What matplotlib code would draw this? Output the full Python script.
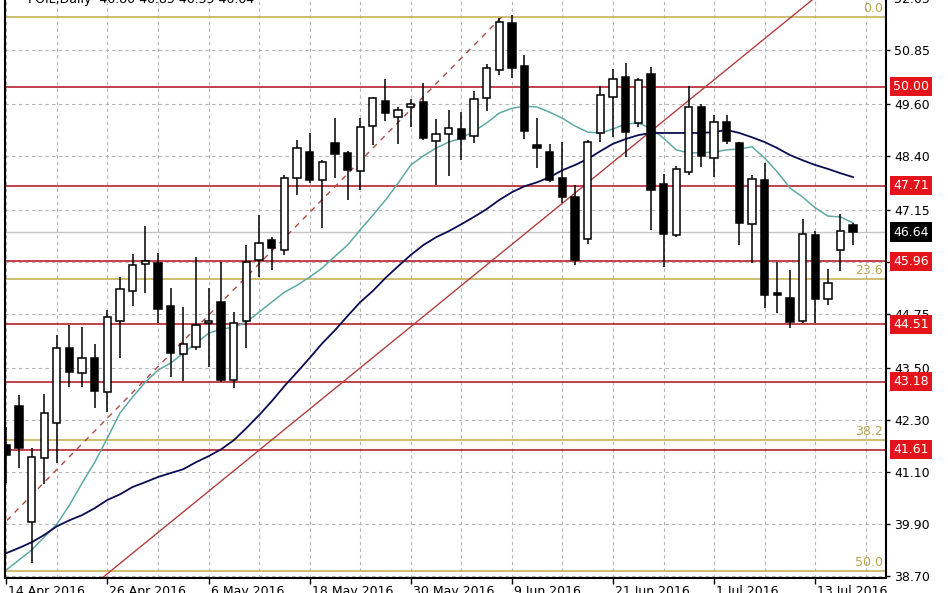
import numpy as np
import pandas as pd
import matplotlib
matplotlib.use("Agg")
import matplotlib.pyplot as plt

# ---------------- data ----------------
dates = pd.bdate_range("2016-04-14", "2016-07-18")   # 68 daily bars

opens = [41.72, 42.62, 39.94, 41.42, 42.23, 43.96, 43.38, 43.73, 42.95, 44.59,
         45.28, 45.90, 45.92, 44.93, 43.82, 43.98, 44.54, 45.02, 43.22, 44.58,
         46.00, 46.46, 46.23, 47.89, 48.49, 47.84, 48.70, 48.47, 48.05, 49.09,
         49.67, 49.30, 49.53, 49.64, 48.74, 48.91, 49.02, 48.86, 49.74, 50.39,
         51.47, 50.48, 48.65, 48.49, 47.89, 47.45, 46.48, 48.93, 49.76, 50.22,
         49.16, 50.29, 47.75, 46.57, 48.03, 49.53, 48.35, 49.18, 48.70, 46.82,
         47.84, 45.23, 45.11, 44.59, 46.57, 45.09, 46.22, 46.80]
highs = [42.14, 42.88, 41.65, 42.90, 44.26, 44.49, 44.45, 44.05, 44.84, 45.60,
         46.13, 46.78, 46.15, 45.35, 44.91, 46.06, 45.35, 45.95, 44.79, 46.34,
         47.03, 46.53, 47.96, 48.77, 48.93, 48.30, 49.28, 48.51, 49.28, 49.76,
         50.18, 49.53, 49.72, 50.08, 49.26, 49.46, 49.42, 49.90, 50.52, 51.59,
         51.66, 50.73, 49.28, 48.68, 48.72, 47.73, 48.77, 50.02, 50.41, 50.55,
         50.20, 50.45, 47.98, 48.17, 50.02, 49.60, 49.35, 49.35, 48.72, 47.96,
         48.24, 45.95, 45.76, 46.94, 46.67, 45.78, 47.06, 46.85]
lows = [40.84, 41.19, 38.99, 40.81, 41.30, 43.06, 43.06, 42.58, 42.48, 43.73,
        44.93, 45.23, 44.54, 43.29, 43.20, 43.92, 43.52, 43.18, 43.04, 43.96,
        45.60, 45.77, 46.11, 47.50, 47.77, 46.73, 47.88, 47.38, 47.61, 48.65,
        49.21, 48.68, 49.07, 48.77, 47.73, 47.94, 48.31, 48.70, 49.44, 50.27,
        50.20, 48.79, 48.12, 47.80, 47.31, 45.88, 46.37, 48.72, 48.84, 48.38,
        49.07, 46.69, 45.83, 46.53, 47.96, 48.15, 47.91, 48.68, 46.34, 45.92,
        44.89, 44.77, 44.42, 44.54, 44.54, 44.95, 45.74, 46.35]
closes = [41.49, 41.65, 41.44, 42.46, 43.96, 43.41, 43.73, 42.97, 44.68, 45.33,
          45.88, 45.98, 44.86, 43.84, 44.05, 44.49, 44.58, 43.22, 44.54, 45.95,
          46.39, 46.27, 47.89, 48.58, 47.84, 48.26, 48.45, 48.08, 49.07, 49.74,
          49.39, 49.46, 49.60, 48.81, 48.91, 49.05, 48.79, 49.72, 50.43, 51.50,
          50.43, 48.97, 48.58, 47.84, 47.45, 46.00, 48.72, 49.81, 50.18, 48.95,
          50.16, 47.61, 46.60, 48.10, 49.53, 48.40, 49.18, 48.74, 46.85, 47.86,
          45.18, 45.18, 44.56, 46.60, 45.09, 45.46, 46.66, 46.64]

ma_fast = [38.83, 39.06, 39.29, 39.59, 39.89, 40.33, 40.84, 41.32, 41.88, 42.46,
           42.83, 43.17, 43.45, 43.61, 43.84, 44.07, 44.30, 44.40, 44.44, 44.56,
           44.79, 45.02, 45.25, 45.41, 45.60, 45.81, 46.08, 46.34, 46.69, 47.03,
           47.38, 47.77, 48.19, 48.40, 48.58, 48.72, 48.81, 48.97, 49.16, 49.39,
           49.50, 49.55, 49.53, 49.41, 49.27, 49.09, 48.95, 48.93, 49.02, 49.14,
           49.16, 49.04, 48.81, 48.54, 48.47, 48.47, 48.49, 48.54, 48.56, 48.61,
           48.35, 48.03, 47.66, 47.45, 47.20, 47.01, 46.99, 46.85]
ma_slow = [39.22, 39.34, 39.47, 39.64, 39.84, 39.98, 40.10, 40.26, 40.45, 40.58,
           40.75, 40.86, 40.98, 41.07, 41.16, 41.32, 41.46, 41.62, 41.83, 42.11,
           42.41, 42.73, 43.08, 43.40, 43.73, 44.07, 44.37, 44.70, 45.02, 45.28,
           45.58, 45.85, 46.11, 46.34, 46.52, 46.66, 46.82, 46.99, 47.17, 47.38,
           47.56, 47.70, 47.79, 47.91, 48.07, 48.19, 48.33, 48.51, 48.68, 48.79,
           48.88, 48.93, 48.93, 48.93, 48.93, 48.93, 48.95, 49.00, 48.93, 48.83,
           48.72, 48.58, 48.42, 48.30, 48.19, 48.10, 48.00, 47.91]

tick_labels = ["14 Apr 2016", "26 Apr 2016", "6 May 2016", "18 May 2016",
               "30 May 2016", "9 Jun 2016", "21 Jun 2016", "1 Jul 2016",
               "13 Jul 2016"]
y_ticks = [38.70, 39.90, 41.10, 42.30, 43.50, 44.75, 45.95, 47.15, 48.40,
           49.60, 50.85, 52.05]
levels = [50.00, 47.71, 45.96, 44.51, 43.18, 41.61]
last_price = 46.64
fib_high, fib_low = 51.61, 26.00
fib_pcts = [0.0, 23.6, 38.2, 50.0]
trend_p1, trend_p2 = (7.6, 38.65), (62.1, 51.61)
fib_line_x = [-47.0, 39.2]
fib_line_y = [26.00, 51.61]
title = "FOIL,Daily  46.80 46.85 46.35 46.64"

# ---------------- figure ----------------
W, H = 948, 593
fig = plt.figure(figsize=(W / 100, H / 100), dpi=100)
fig.patch.set_facecolor("white")
ax = fig.add_axes([5 / W, 15 / H, 881 / W, 582.2 / H])
ax.set_facecolor("white")

x = np.arange(len(opens))
ax.set_xlim(-0.1, 69.6)
ax.set_ylim(38.646, 52.10)

# grid
grid_kw = dict(color="#b4b4b4", lw=0.8, ls=(0, (3, 3)))
tick_pos = [dates.get_loc(pd.Timestamp(t)) for t in tick_labels]
ax.set_xticks(tick_pos)
ax.set_xticks(np.arange(0, 70, 4), minor=True)
ax.set_yticks(y_ticks)
ax.grid(True, which="both", axis="x", **grid_kw)
ax.grid(True, which="major", axis="y", **grid_kw)
ax.set_axisbelow(True)

ax.tick_params(axis="x", which="major", length=4, width=1, direction="out",
               labelbottom=False)
ax.tick_params(axis="x", which="minor", length=0)
ax.yaxis.tick_right()
ax.tick_params(axis="y", which="major", length=3, width=1, direction="out",
               pad=3, labelsize=9, right=True, left=False,
               labelright=True, labelleft=False)
ax.set_yticklabels([f"{v:.2f}" for v in y_ticks])

for s in ["left", "right", "bottom"]:
    ax.spines[s].set_linewidth(1.5)
    ax.spines[s].set_color("black")
ax.spines["top"].set_visible(False)

# fibonacci horizontal levels
fib_color = "#c6b25a"
for p in fib_pcts:
    lvl = fib_high - (fib_high - fib_low) * p / 100.0
    ax.axhline(lvl, color=fib_color, lw=1.2, zorder=1.5)
    ax.annotate(f"{p:.1f}", xy=(1, lvl), xycoords=("axes fraction", "data"),
                xytext=(-3, 2), textcoords="offset pixels", ha="right",
                va="bottom", fontsize=9, color="#b8a552")

# support / resistance lines
red_line = "#b8202e"
for lv in levels:
    ax.axhline(lv, color=red_line, lw=1.2, zorder=1.6)
ax.axhline(last_price, color="#c4c4c4", lw=1.0, zorder=1.4)

# diagonal lines
ax.axline(trend_p1, trend_p2, color="#b04040", lw=1.0, zorder=1.7)
ax.plot(fib_line_x, fib_line_y, color="#b04848", lw=1.0, ls=(0, (4, 4)),
        zorder=1.7)

# moving averages
ax.plot(x, ma_fast, color="#5fa9a6", lw=1.1, zorder=2.2)
ax.plot(x, ma_slow, color="#0c0c52", lw=1.3, zorder=2.2)

# candles
o = np.array(opens); c = np.array(closes)
h = np.array(highs); l = np.array(lows)
ax.vlines(x, l, h, color="black", lw=1.1, zorder=3)
up = c >= o
bottoms = np.minimum(o, c)
heights = np.maximum(np.abs(c - o), 0.02)
ax.bar(x[up], heights[up], bottom=bottoms[up], width=0.58, color="white",
       edgecolor="black", lw=1.1, zorder=4)
ax.bar(x[~up], heights[~up], bottom=bottoms[~up], width=0.58, color="black",
       edgecolor="black", lw=1.1, zorder=4)

# price labels on the right
for lv in levels:
    ax.annotate(f"{lv:.2f}", xy=(1, lv), xycoords=("axes fraction", "data"),
                xytext=(7, 0), textcoords="offset pixels", ha="left",
                va="center", fontsize=9, color="white", zorder=10,
                annotation_clip=False,
                bbox=dict(boxstyle="square,pad=0.25", fc="#e3141c", ec="none"))
ax.annotate(f"{last_price:.2f}", xy=(1, last_price),
            xycoords=("axes fraction", "data"), xytext=(7, 0),
            textcoords="offset pixels", ha="left", va="center", fontsize=9,
            color="white", zorder=10, annotation_clip=False,
            bbox=dict(boxstyle="square,pad=0.25", fc="black", ec="none"))

# date labels
for t, pos in zip(tick_labels, tick_pos):
    ax.annotate(t, xy=(pos, 0), xycoords=("data", "axes fraction"),
                xytext=(2, -7), textcoords="offset pixels", ha="left",
                va="top", fontsize=9, annotation_clip=False)

# title (partially cut at the top like the screenshot)
fig.text(28 / W, 1 + 1 / H, title, fontsize=9, va="center", ha="left")

fig.savefig("out.png", dpi=100)
